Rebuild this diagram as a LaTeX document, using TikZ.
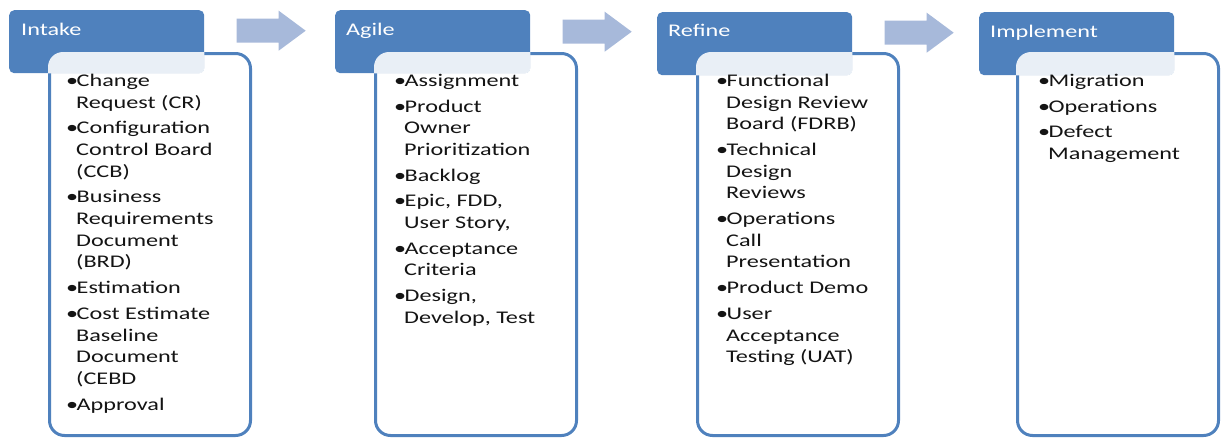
\documentclass[tikz,border=0pt]{standalone}
\usepackage{fontspec}
\setmainfont{Carlito}[FakeStretch=1.36]
\usetikzlibrary{positioning,calc}

\definecolor{hdrblue}{RGB}{79,129,189}
\definecolor{arrblue}{RGB}{167,185,218}
\definecolor{txtgray}{RGB}{20,20,20}

% bullet and continuation indent for the item lists
\newcommand{\bul}{\strut\makebox[10.5pt][l]{\textbullet}}
\newcommand{\cnt}{\hspace*{10pt}}

\begin{document}
\begin{tikzpicture}[x=1pt,y=-1pt,
	head/.style={fill=hdrblue,rounded corners=5pt,minimum width=195pt,minimum height=63pt,anchor=north west,inner sep=0pt},
	body/.style={draw=hdrblue,line width=3pt,fill=white,rounded corners=15pt,minimum width=201pt,minimum height=382pt,anchor=north west,inner sep=0pt},
	veil/.style={fill=white,fill opacity=0.88,rounded corners=15pt},
	title/.style={text=white,font=\fontsize{17.8}{21.7}\selectfont,anchor=base west,inner sep=0pt},
	items/.style={text=txtgray,font=\fontsize{17.8}{21.7}\selectfont,align=left,anchor=north west,inner sep=0pt},
	flow/.style={fill=arrblue}]
	
	\useasboundingbox (0,0) rectangle (1222,439);
	
	% column 1: intake
	\node[body] (b1) at (48,52) {};
	\node[head] (h1) at (9,10) {};
	\begin{scope}
		\clip[rounded corners=5pt] (h1.north west) rectangle (h1.south east);
		\fill[veil] (b1.north west) rectangle (b1.south east);
	\end{scope}
	\node[title] (t1) at ($(h1.north west)+(12,25)$) {Intake};
	\node[items] (l1) at (66,71) {%
		\bul Change\\ \cnt Request (CR)\\[4pt]
		\bul Configuration\\ \cnt Control Board\\ \cnt (CCB)\\[4pt]
		\bul Business\\ \cnt Requirements\\ \cnt Document\\ \cnt (BRD)\\[4pt]
		\bul Estimation\\[4pt]
		\bul Cost Estimate\\ \cnt Baseline\\ \cnt Document\\ \cnt (CEBD\\[4pt]
		\bul Approval};
	
	% column 2: agile
	\node[body] (b2) at (374,52) {};
	\node[head] (h2) at (335,10) {};
	\begin{scope}
		\clip[rounded corners=5pt] (h2.north west) rectangle (h2.south east);
		\fill[veil] (b2.north west) rectangle (b2.south east);
	\end{scope}
	\node[title] (t2) at ($(h2.north west)+(11,25)$) {Agile};
	\node[items] (l2) at (394,71) {%
		\bul Assignment\\[4pt]
		\bul Product\\ \cnt Owner\\ \cnt Prioritization\\[4pt]
		\bul Backlog\\[4pt]
		\bul Epic, FDD,\\ \cnt User Story,\\[4pt]
		\bul Acceptance\\ \cnt Criteria\\[4pt]
		\bul Design,\\ \cnt Develop, Test};
	
	% column 3: refine
	\node[body] (b3) at (696,52) {};
	\node[head] (h3) at (657,12) {};
	\begin{scope}
		\clip[rounded corners=5pt] (h3.north west) rectangle (h3.south east);
		\fill[veil] (b3.north west) rectangle (b3.south east);
	\end{scope}
	\node[title] (t3) at ($(h3.north west)+(11,24)$) {Refine};
	\node[items] (l3) at (716,71) {%
		\bul Functional\\ \cnt Design Review\\ \cnt Board (FDRB)\\[4pt]
		\bul Technical\\ \cnt Design\\ \cnt Reviews\\[4pt]
		\bul Operations\\ \cnt Call\\ \cnt Presentation\\[4pt]
		\bul Product Demo\\[4pt]
		\bul User\\ \cnt Acceptance\\ \cnt Testing (UAT)};
	
	% column 4: implement
	\node[body] (b4) at (1016,52) {};
	\node[head] (h4) at (979,12) {};
	\begin{scope}
		\clip[rounded corners=5pt] (h4.north west) rectangle (h4.south east);
		\fill[veil] (b4.north west) rectangle (b4.south east);
	\end{scope}
	\node[title] (t4) at ($(h4.north west)+(11,25)$) {Implement};
	\node[items] (l4) at (1038,71) {%
		\bul Migration\\[4pt]
		\bul Operations\\[4pt]
		\bul Defect\\ \cnt Management};
	
	% block arrows between the headers
	\coordinate (a1) at ($(h1.east)!0.5!(h2.west)+(1,-11)$);
	\coordinate (a2) at ($(h2.east)!0.5!(h3.west)+(3,-11)$);
	\coordinate (a3) at ($(h3.east)!0.5!(h4.west)+(3,-11)$);
	\foreach \a in {a1,a2,a3}
	\fill[flow] (\a) ++(-34,-12) -- ++(42,0) -- ++(0,-8) -- ++(27,20) -- ++(-27,20) -- ++(0,-8) -- ++(-42,0) -- cycle;
	
\end{tikzpicture}
\end{document}
